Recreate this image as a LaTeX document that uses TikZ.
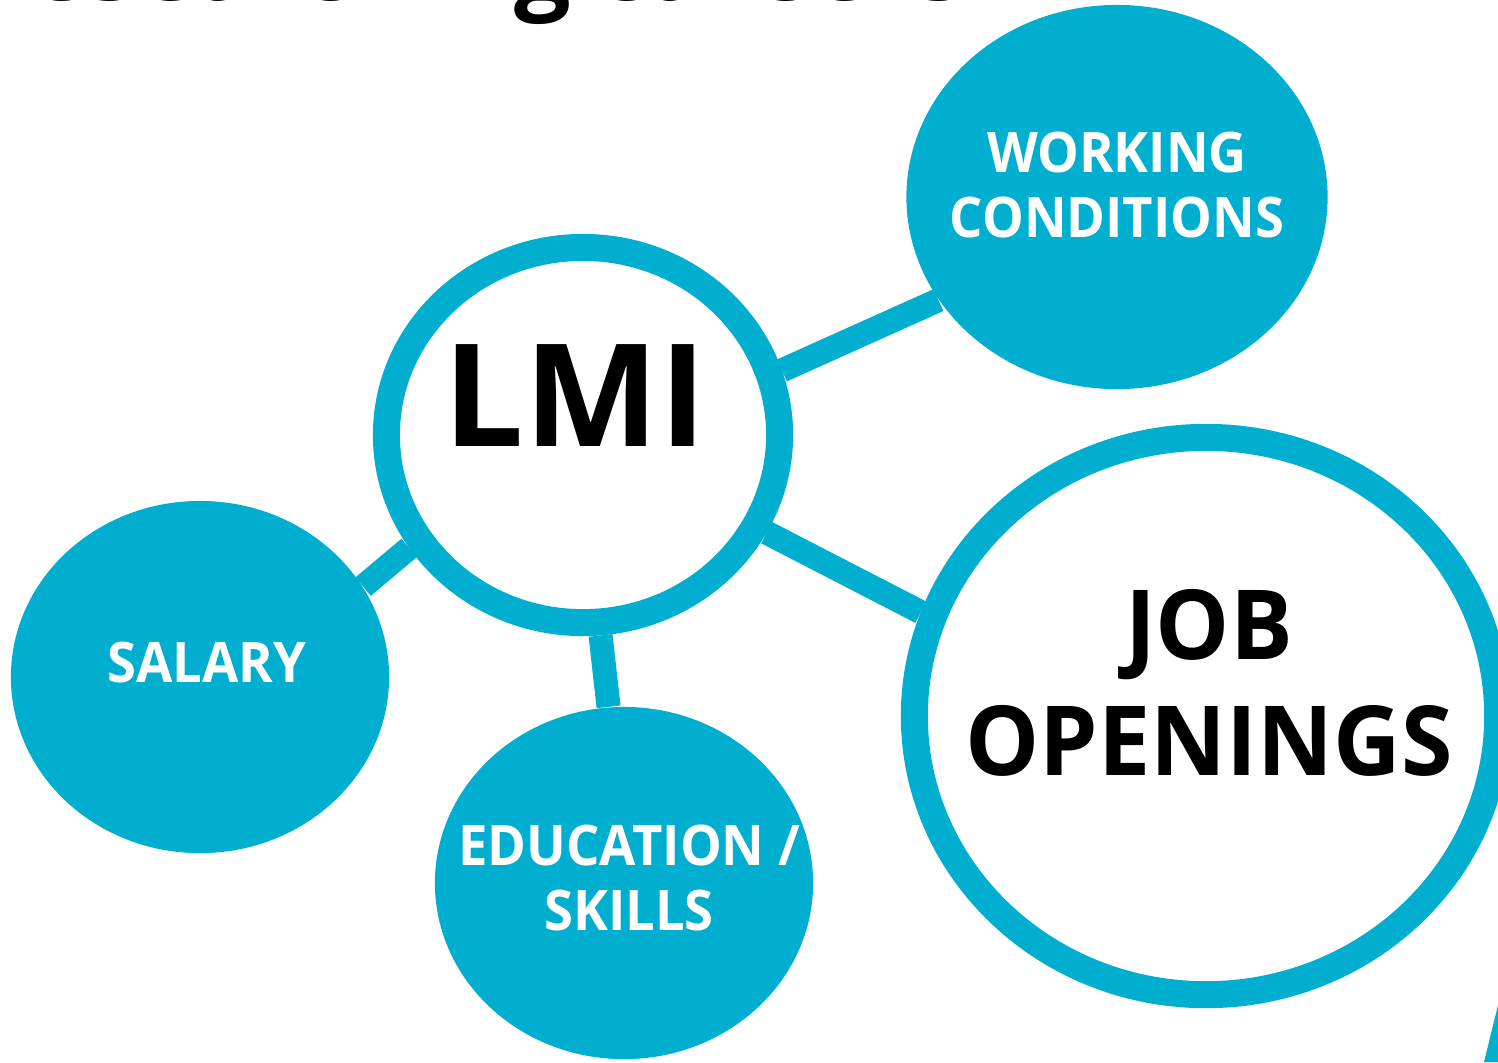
\documentclass[tikz,border=0pt]{standalone}
\usepackage{fontspec}
\setmainfont{Open Sans}
\newfontfamily\narrowfont{Open Sans}[FakeStretch=0.94]
\newfontfamily\jobfont{Open Sans}[FakeStretch=0.965]
\usetikzlibrary{shapes.geometric,backgrounds}
\definecolor{lmiblue}{HTML}{00AECF}

\begin{document}
\begin{tikzpicture}[x=0.01cm,y=-0.01cm]
          \tikzstyle{every node}=[inner sep=0pt,font=\bfseries]
          \tikzstyle{ring}=[ellipse,draw=lmiblue,line width=0.27cm,fill=white]
          \tikzstyle{blob}=[ellipse,fill=lmiblue]
          \tikzstyle{link}=[draw=lmiblue,line width=0.24cm]
          \tikzstyle{small}=[text=white,align=center,font=\narrowfont\bfseries\fontsize{15.9}{18.5}\selectfont]
          \useasboundingbox (0,0) rectangle (1498,1062);
          % title, mostly off the page
          \node[anchor=base east,font=\bfseries\fontsize{28.5}{34}\selectfont] (title) at (967,0) {Researching careers};
          \node[ring,minimum width=3.93cm,minimum height=3.75cm] (lmi) at (583,435) {};
          \node[ring,minimum width=5.83cm,minimum height=5.57cm] (job) at (1206,716) {};
          \node[blob,minimum width=4.21cm,minimum height=3.84cm] (wc) at (1117,197) {};
          \node[blob,minimum width=3.78cm,minimum height=3.52cm] (sal) at (200,677) {};
          \node[blob,minimum width=3.78cm,minimum height=3.52cm] (edu) at (624,883) {};
          \node[font=\bfseries\fontsize{40.6}{46}\selectfont] (lmitxt) at (575,396) {LMI};
          \node[align=center,font=\jobfont\bfseries\fontsize{27.5}{33}\selectfont] (jobtxt) at (1209,683) {JOB\\OPENINGS};
          \node[small] (wctxt) at (1117,185) {WORKING\\CONDITIONS};
          \node[small] (saltxt) at (207,662) {SALARY};
          \node[small] (edutxt) at (629,878) {EDUCATION /\\SKILLS};
          \fill[lmiblue] (1484,1062) -- (1498,1005) -- (1498,1062) -- cycle;
          \begin{scope}[on background layer]
            \draw[link] (lmi.18) -- (wc.210);
            \draw[link] (lmi.213) -- (sal.29);
            \draw[link] (lmi.275) -- (edu.95);
            \draw[link] (lmi.332) -- (job.160);
          \end{scope}
      \end{tikzpicture}
\end{document}
